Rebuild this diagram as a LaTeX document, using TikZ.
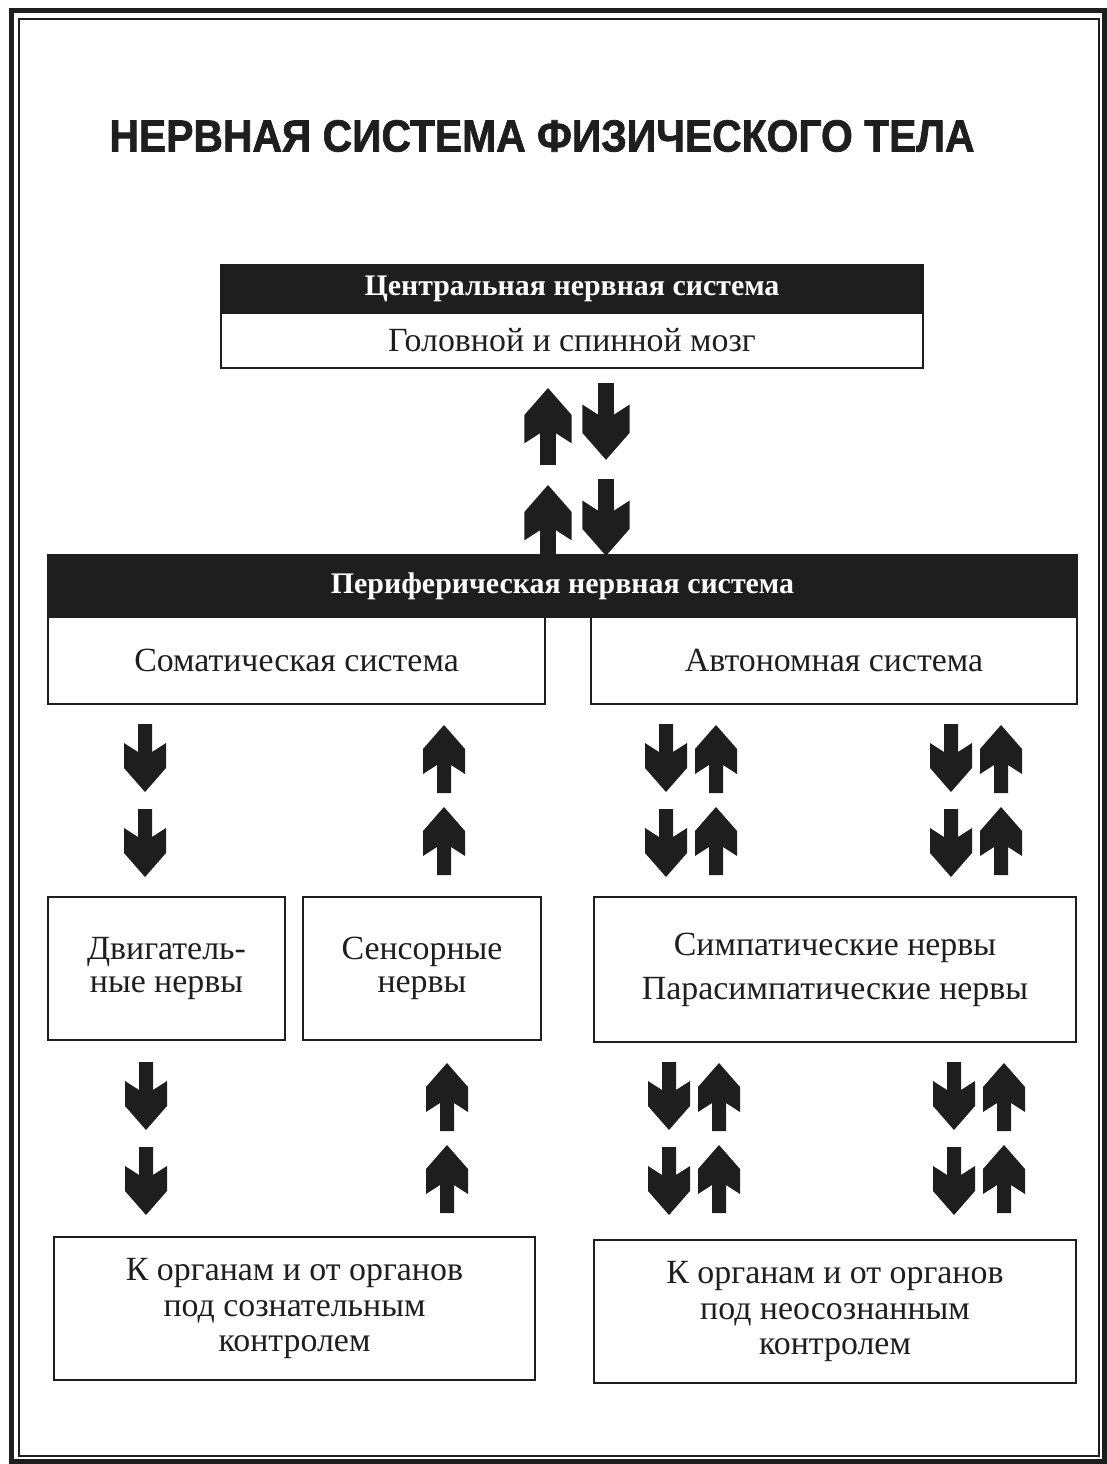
\documentclass[tikz,border=0pt]{standalone}
\usepackage{fontspec}
\setmainfont{Liberation Serif}
\newfontfamily\titlefont[FakeBold=1.6]{Liberation Sans Bold}
\usetikzlibrary{positioning}

\definecolor{ink}{HTML}{1E1E1E}

\tikzset{
  pics/uparr/.style = {code = {
    \fill[ink] (0,0) -- (21,24) -- (21,49) -- (7,40) -- (7,68) -- (-7,68)
      -- (-7,40) -- (-21,49) -- (-21,24) -- cycle;
  }},
  pics/downarr/.style = {code = {
    \fill[ink] (-7,0) -- (-7,28) -- (-21,19) -- (-21,44) -- (0,68) -- (21,44)
      -- (21,19) -- (7,28) -- (7,0) -- cycle;
  }}
}

\begin{document}
\begin{tikzpicture}[
    x=1bp, y=-1bp,
    blackbar/.style = {
        rectangle, fill=ink, draw=ink, line width=1.5bp, inner sep=0pt,
        text=white, font=\fontsize{30}{33}\selectfont\bfseries
    },
    whitebox/.style = {
        rectangle, draw=ink, line width=2bp, inner sep=0pt, align=center,
        text=ink, font=\fontsize{34}{36}\selectfont
    },
    titletext/.style = {
        font=\titlefont\fontsize{41}{45}\selectfont, text=ink
    }
]
\useasboundingbox (0,0) rectangle (1106,1464);

% ── Frame ──
\draw[ink, line width=5bp] (11,11) rectangle (1104,1461);
\draw[ink, line width=2bp] (19,19) rectangle (1099,1456);

% ── Title ──
\node[titletext, yscale=1.1] (title) at (542,136) {НЕРВНАЯ СИСТЕМА ФИЗИЧЕСКОГО ТЕЛА};

% ── Central nervous system ──
\node[blackbar, minimum width=702bp, minimum height=48bp] (cnshead) at (572,289) {Центральная нервная система};
\node[whitebox, minimum width=702bp, minimum height=55bp] (cnsbody) at (572,340.5) {Головной и спинной мозг};

% ── Arrows: CNS <-> PNS ──
\pic[scale=1.13] at (548,388) {uparr};
\pic[scale=1.13] at (606,383) {downarr};
\pic[scale=1.13] at (548,485) {uparr};
\pic[scale=1.13] at (606,479) {downarr};

% ── Peripheral nervous system ──
\node[blackbar, minimum width=1029bp, minimum height=62bp] (pnshead) at (562.5,586) {Периферическая нервная система};
\node[whitebox, minimum width=497bp, minimum height=87bp] (soma) at (296.5,660.5) {Соматическая система};
\node[whitebox, minimum width=486bp, minimum height=87bp] (auto) at (834,660.5) {Автономная система};

% ── Arrows: PNS -> nerves ──
\foreach \yd/\yu in {724/725, 809/807} {
  \pic at (145,\yd) {downarr};
  \pic at (444,\yu) {uparr};
  \pic at (666,\yd) {downarr};
  \pic at (716,\yu) {uparr};
  \pic at (951,\yd) {downarr};
  \pic at (1001,\yu) {uparr};
}

% ── Nerves ──
\node[whitebox, minimum width=237bp, minimum height=143bp,
      font=\fontsize{34}{33}\selectfont] (motor) at (166.5,968.5) {Двигатель-\\ные нервы};
\node[whitebox, minimum width=238bp, minimum height=143bp,
      font=\fontsize{34}{33}\selectfont] (sensor) at (422,968.5) {Сенсорные\\нервы};
\node[whitebox, minimum width=482bp, minimum height=145bp,
      font=\fontsize{34}{44}\selectfont] (symp) at (835,969.5) {Симпатические нервы\\Парасимпатические нервы};

% ── Arrows: nerves -> organs ──
\foreach \yd/\yu in {1062/1063, 1147/1145} {
  \pic at (146,\yd) {downarr};
  \pic at (447,\yu) {uparr};
  \pic at (669,\yd) {downarr};
  \pic at (719,\yu) {uparr};
  \pic at (954,\yd) {downarr};
  \pic at (1004,\yu) {uparr};
}

% ── Organs ──
\node[whitebox, minimum width=481bp, minimum height=143bp] (orgl) at (294.5,1308.5) {К органам и от органов\\под сознательным\\контролем};
\node[whitebox, minimum width=482bp, minimum height=143bp] (orgr) at (835,1311.5) {К органам и от органов\\под неосознанным\\контролем};

\end{tikzpicture}
\end{document}
